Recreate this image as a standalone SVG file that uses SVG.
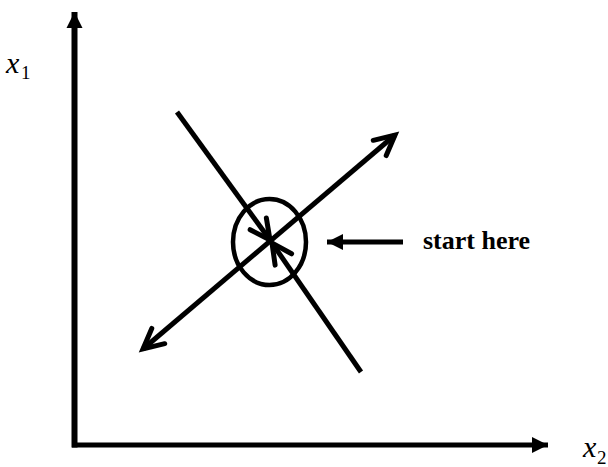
<svg xmlns="http://www.w3.org/2000/svg" width="608" height="467" viewBox="0 0 608 467">
<style>
.ln{stroke:#000;stroke-width:5;fill:none}
.lbl{font-family:"Liberation Serif","Times New Roman",serif;fill:#000}
</style>
<defs>
<marker id="chev" markerUnits="userSpaceOnUse" markerWidth="40" markerHeight="40" viewBox="-30 -20 40 40" refX="0" refY="0" orient="auto-start-reverse" overflow="visible">
<path d="M-20,-10 L0,0 L-20,10" fill="none" stroke="#000" stroke-width="5" stroke-linecap="round" stroke-linejoin="miter"/>
</marker>
<marker id="tri" markerUnits="userSpaceOnUse" markerWidth="30" markerHeight="30" viewBox="-20 -15 30 30" refX="0" refY="0" orient="auto" overflow="visible">
<path d="M-16,-8 L0,0 L-16,8 Z" fill="#000"/>
</marker>
</defs>
<g id="connectors">
<line id="y-axis" class="ln" x1="74.5" y1="447.5" x2="74.5" y2="12" style="stroke-width:6" marker-end="url(#tri)"/>
<line id="x-axis" class="ln" x1="72" y1="445" x2="548" y2="445" marker-end="url(#tri)"/>
<line id="in-upper" class="ln" x1="177" y1="112" x2="270" y2="240" marker-end="url(#chev)"/>
<line id="in-lower" class="ln" x1="361" y1="372" x2="272" y2="243" marker-end="url(#chev)"/>
<line id="diag" class="ln" x1="143" y1="349" x2="395" y2="135" marker-start="url(#chev)" marker-end="url(#chev)"/>
<line id="start-arrow" class="ln" x1="403" y1="242" x2="327" y2="242" marker-end="url(#tri)"/>
</g>
<g id="start-ellipse">
<ellipse cx="269.5" cy="242" rx="36.5" ry="43" fill="none" stroke="#000" stroke-width="4.5"/>
</g>
<g id="label-start">
<text class="lbl" x="423" y="249" font-size="26" font-weight="bold">start here</text>
</g>
<g id="label-x1">
<text class="lbl" x="6" y="73" font-size="30" font-style="italic">x</text>
<text class="lbl" x="21" y="79" font-size="19">1</text>
</g>
<g id="label-x2">
<text class="lbl" x="583" y="457" font-size="30" font-style="italic">x</text>
<text class="lbl" x="597" y="464" font-size="19">2</text>
</g>
</svg>
